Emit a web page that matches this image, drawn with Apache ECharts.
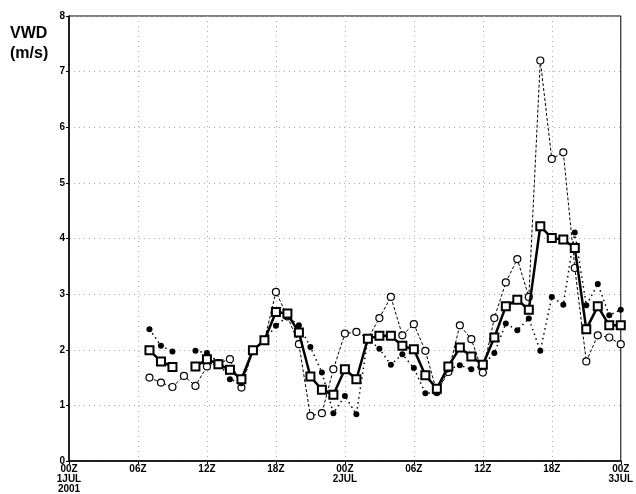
<!DOCTYPE html>
<html>
<head>
<meta charset="utf-8">
<script src="https://cdn.jsdelivr.net/npm/echarts@6/dist/echarts.min.js"></script>
<style>
  html, body { margin: 0; padding: 0; background: #fff; }
  #chart { width: 636px; height: 494px; }
</style>
</head>
<body>
<div id="chart"></div>
<script>
// Hours since 00Z 1 JUL 2001
const hours = [7, 8, 9, 10, 11, 12, 13, 14, 15, 16, 17, 18, 19, 20, 21, 22, 23, 24, 25, 26, 27,
               28, 29, 30, 31, 32, 33, 34, 35, 36, 37, 38, 39, 40, 41, 42, 43, 44, 45, 46, 47, 48];

// Mean VWD (thick line, squares)
const vwdMean = [1.99, 1.79, 1.69, null, 1.70, 1.83, 1.74, 1.64, 1.47, 1.99, 2.17, 2.68, 2.65, 2.31,
                 1.52, 1.28, 1.19, 1.65, 1.47, 2.20, 2.25, 2.25, 2.07, 2.01, 1.54, 1.30, 1.70, 2.04,
                 1.88, 1.73, 2.22, 2.78, 2.90, 2.72, 4.22, 4.01, 3.98, 3.83, 2.37, 2.78, 2.44, 2.44];

// Open circles, dashed line
const vwdOpen = [1.50, 1.41, 1.33, 1.53, 1.35, 1.70, 1.76, 1.83, 1.32, 1.99, 2.17, 3.04, 2.60, 2.10,
                 0.81, 0.86, 1.65, 2.29, 2.32, 2.20, 2.57, 2.95, 2.26, 2.46, 1.98, 1.24, 1.60, 2.44,
                 2.19, 1.59, 2.57, 3.21, 3.63, 2.95, 7.20, 5.43, 5.55, 3.47, 1.79, 2.26, 2.22, 2.10];

// Filled circles, dotted line
const vwdFilled = [2.37, 2.07, 1.97, null, 1.98, 1.94, 1.78, 1.47, 1.40, 1.99, 2.17, 2.43, 2.60, 2.44,
                   2.05, 1.59, 0.86, 1.17, 0.84, 2.20, 2.02, 1.73, 1.92, 1.67, 1.22, 1.23, 1.65, 1.72,
                   1.65, 1.72, 1.94, 2.47, 2.35, 2.56, 1.98, 2.95, 2.81, 4.11, 2.80, 3.18, 2.62, 2.72];

// Time axis labels every 6 hours
const tickHours = [0, 6, 12, 18, 24, 30, 36, 42, 48];
const tickLabels = ['00Z\n1JUL\n2001', '06Z', '12Z', '18Z', '00Z\n2JUL', '06Z', '12Z', '18Z', '00Z\n3JUL'];

const pair = vals => hours.map((h, i) => [h, vals[i]]);

const chart = echarts.init(document.getElementById('chart'), null, { renderer: 'canvas' });

const labelFont = {
  fontFamily: '"Liberation Sans Narrow", "Liberation Sans", sans-serif',
  fontWeight: 'bold',
  fontSize: 10,
  color: '#000'
};

chart.setOption({
  animation: false,
  backgroundColor: '#fff',
  grid: {
    left: 69, right: 11, top: 16, bottom: 32,
    show: true, borderColor: '#000', borderWidth: 1, backgroundColor: 'transparent'
  },
  graphic: [
    { type: 'text', left: 10, top: 26,
      style: { text: 'VWD', font: 'bold 16px "Liberation Sans", Arial, sans-serif', fill: '#000' } },
    { type: 'text', left: 10, top: 46,
      style: { text: '(m/s)', font: 'bold 16px "Liberation Sans", Arial, sans-serif', fill: '#000' } }
  ],
  xAxis: {
    type: 'value', min: 0, max: 48, interval: 6,
    axisLine: { show: true, lineStyle: { color: '#000', width: 1.5 } },
    axisTick: { show: true, length: 3, lineStyle: { color: '#000' } },
    axisLabel: Object.assign({
      margin: 3, lineHeight: 10, showMinLabel: true, showMaxLabel: true,
      formatter: v => { const k = tickHours.indexOf(v); return k >= 0 ? tickLabels[k] : ''; }
    }, labelFont),
    splitLine: { show: true, lineStyle: { color: '#aaa', type: [1, 4], width: 1 } }
  },
  yAxis: {
    type: 'value', min: 0, max: 8, interval: 1,
    axisLine: { show: true, lineStyle: { color: '#000', width: 1.5 } },
    axisTick: { show: true, length: 3, lineStyle: { color: '#000' } },
    axisLabel: Object.assign({ margin: 4 }, labelFont),
    splitLine: { show: true, lineStyle: { color: '#aaa', type: [1, 4], width: 1 } }
  },
  series: [
    {
      name: 'open', type: 'line', data: pair(vwdOpen), connectNulls: false,
      symbol: 'circle', symbolSize: 7, showAllSymbol: true,
      itemStyle: { color: '#fff', borderColor: '#000', borderWidth: 1.2 },
      lineStyle: { color: '#000', width: 1, type: [3, 2] },
      z: 3
    },
    {
      name: 'filled', type: 'line', data: pair(vwdFilled), connectNulls: false,
      symbol: 'circle', symbolSize: 6, showAllSymbol: true,
      itemStyle: { color: '#000', borderColor: '#000', borderWidth: 0 },
      lineStyle: { color: '#000', width: 1.5, type: [1.5, 3.5] },
      z: 4
    },
    {
      name: 'mean', type: 'line', data: pair(vwdMean), connectNulls: false,
      symbol: 'rect', symbolSize: 8, showAllSymbol: true,
      itemStyle: { color: '#fff', borderColor: '#000', borderWidth: 2 },
      lineStyle: { color: '#000', width: 2.5 },
      z: 5
    }
  ]
});
</script>
</body>
</html>
